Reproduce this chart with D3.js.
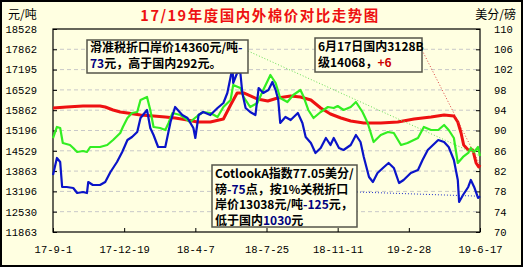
<!DOCTYPE html>
<html>
<head>
<meta charset="utf-8">
<script src="https://cdn.jsdelivr.net/npm/d3@7"></script>
<style>
  body { margin: 0; background: #fff; }
  svg { display: block; }
</style>
</head>
<body>
<svg id="chart" width="523" height="267"></svg>
<script>
(function() {
  // 国内3128B级价格 (元/吨)
  const domestic = [
    ["2017-09-01",15934],["2017-09-22",15967],["2017-10-17",16000],["2017-11-12",16000],
    ["2017-11-20",15967],["2017-12-02",15869],["2017-12-13",15803],["2017-12-24",15770],
    ["2018-01-13",15704],["2018-02-02",15672],["2018-02-20",15639],["2018-03-07",15606],
    ["2018-03-26",15540],["2018-04-10",15474],["2018-04-30",15474],["2018-05-20",15573],
    ["2018-05-31",16033],["2018-06-10",16427],["2018-06-20",16427],["2018-07-11",16230],
    ["2018-07-27",16164],["2018-08-11",16263],["2018-08-31",16328],["2018-09-15",16295],
    ["2018-10-01",16197],["2018-10-16",15934],["2018-10-31",15737],["2018-11-16",15606],
    ["2018-12-01",15507],["2018-12-21",15442],["2019-01-16",15442],["2019-02-11",15474],
    ["2019-03-08",15573],["2019-04-03",15639],["2019-04-23",15704],["2019-05-08",15672],
    ["2019-05-14",15474],["2019-05-19",15113],["2019-05-23",14720],["2019-05-30",14556],
    ["2019-06-06",14556],["2019-06-11",14129],["2019-06-15",14000],["2019-06-17",14068]
  ];

  // 滑准税折口岸价 (元/吨)
  const slidingTariff = [
    ["2017-09-01",14949],["2017-09-07",15311],["2017-09-12",15278],["2017-09-16",14785],
    ["2017-09-27",14720],["2017-10-02",14621],["2017-10-08",14490],["2017-10-17",14523],
    ["2017-10-23",14490],["2017-10-28",14654],["2017-11-12",14654],["2017-11-23",14720],
    ["2017-12-02",14884],["2017-12-13",15113],["2017-12-17",15311],["2017-12-24",15606],
    ["2017-12-31",15770],["2018-01-08",15803],["2018-01-13",16197],["2018-01-23",16295],
    ["2018-01-28",15869],["2018-02-02",15311],["2018-02-12",15278],["2018-02-20",15212],
    ["2018-02-25",15442],["2018-03-03",15770],["2018-03-15",15704],["2018-03-30",15474],
    ["2018-04-12",15704],["2018-04-19",15803],["2018-04-30",15770],["2018-05-11",15639],
    ["2018-05-20",15967],["2018-05-31",16197],["2018-06-04",16690],["2018-06-15",16591],
    ["2018-06-20",16295],["2018-06-30",15967],["2018-07-11",16098],["2018-07-20",16525],
    ["2018-07-31",17018],["2018-08-08",16755],["2018-08-15",16263],["2018-08-26",16131],
    ["2018-09-04",16361],["2018-09-15",16525],["2018-09-20",16295],["2018-09-27",15869],
    ["2018-10-05",15606],["2018-10-16",15803],["2018-10-27",15967],["2018-11-05",15934],
    ["2018-11-11",16000],["2018-11-20",15869],["2018-12-01",15967],["2018-12-09",16131],
    ["2018-12-19",15803],["2018-12-27",15442],["2019-01-05",14818],["2019-01-16",15048],
    ["2019-01-27",15146],["2019-02-05",15113],["2019-02-16",14720],["2019-02-26",14785],
    ["2019-03-14",14949],["2019-03-23",15311],["2019-04-03",15212],["2019-04-14",15212],
    ["2019-04-23",15376],["2019-04-30",15212],["2019-05-08",14949],["2019-05-14",14129],
    ["2019-05-22",14326],["2019-05-30",14457],["2019-06-03",14621],["2019-06-08",14490],
    ["2019-06-14",14654],["2019-06-17",14360]
  ];

  // 1%关税折口岸价 (元/吨)
  const onePctTariff = [
    ["2017-09-01",13735],["2017-09-07",14293],["2017-09-12",14162],["2017-09-15",13341],
    ["2017-09-22",13341],["2017-10-02",13308],["2017-10-08",13143],["2017-10-17",13176],
    ["2017-10-23",13143],["2017-10-25",13505],["2017-11-01",13406],["2017-11-12",13406],
    ["2017-11-20",13505],["2017-11-28",13833],["2017-12-08",14162],["2017-12-16",14490],
    ["2017-12-24",14884],["2017-12-31",14982],["2018-01-08",15146],["2018-01-13",15606],
    ["2018-01-23",15869],["2018-01-28",15278],["2018-02-02",15048],["2018-02-09",14654],
    ["2018-02-20",14654],["2018-02-28",15474],["2018-03-07",15967],["2018-03-18",15704],
    ["2018-03-26",15606],["2018-04-04",15278],["2018-04-07",14949],["2018-04-12",15704],
    ["2018-04-19",15803],["2018-04-30",15704],["2018-05-11",15934],["2018-05-20",16098],
    ["2018-05-26",16427],["2018-05-31",16952],["2018-06-03",17280],["2018-06-04",16755],
    ["2018-06-10",17083],["2018-06-15",17083],["2018-06-18",16427],["2018-06-23",15934],
    ["2018-06-30",15803],["2018-07-08",15704],["2018-07-13",16591],["2018-07-20",16427],
    ["2018-07-28",16525],["2018-08-03",16788],["2018-08-08",16525],["2018-08-12",16197],
    ["2018-08-15",15442],["2018-08-23",15639],["2018-08-31",15540],["2018-09-11",15770],
    ["2018-09-18",15442],["2018-09-23",14982],["2018-10-01",14785],["2018-10-08",14457],
    ["2018-10-16",14621],["2018-10-24",14949],["2018-10-31",14720],["2018-11-05",14949],
    ["2018-11-13",14621],["2018-11-20",14556],["2018-12-01",14720],["2018-12-09",15048],
    ["2018-12-16",14818],["2018-12-21",14326],["2018-12-29",13669],["2019-01-04",13505],
    ["2019-01-11",13800],["2019-01-21",13998],["2019-01-28",14129],["2019-02-05",13965],
    ["2019-02-13",13472],["2019-02-20",13571],["2019-03-03",13800],["2019-03-14",13899],
    ["2019-03-21",14227],["2019-03-29",14556],["2019-04-06",14720],["2019-04-14",14884],
    ["2019-04-23",14818],["2019-04-30",14654],["2019-05-08",14227],["2019-05-14",13571],
    ["2019-05-16",12848],["2019-05-22",13078],["2019-05-30",13341],["2019-06-03",13571],
    ["2019-06-08",13341],["2019-06-14",12980],["2019-06-17",13038]
  ];

  const leftTicks = [11863, 12530, 13196, 13863, 14529, 15196, 15862, 16529, 17195, 17862, 18528];
  const rightTicks = [70, 74, 78, 82, 86, 90, 94, 98, 102, 106, 110];
  const xTicks = ["2017-09-01", "2017-12-19", "2018-04-07", "2018-07-25", "2018-11-11", "2019-02-28", "2019-06-17"];

  const title = "17/19年度国内外棉价对比走势图";
  const note1 = [
    [["滑准税折口岸价14360元/吨", "#000"], ["-", "#000080"]],
    [["73", "#000080"], ["元，高于国内292元。", "#000"]]
  ];
  const note2 = [
    [["6月17日国内3128B", "#000"]],
    [["级14068，", "#000"], ["+6", "#cc0000"]]
  ];
  const note3 = [
    [["CotlookA指数77.05美分/", "#000"]],
    [["磅", "#000"], ["-75", "#000080"], ["点，按1%关税折口", "#000"]],
    [["岸价13038元/吨", "#000"], ["-125", "#000080"], ["元，", "#000"]],
    [["低于国内", "#000"], ["1030", "#000080"], ["元", "#000"]]
  ];

  const parse = d3.timeParse("%Y-%m-%d");
  const fmt = d3.timeFormat("%y-%-m-%-d");

  const svg = d3.select("#chart");
  const W = 523, H = 267;
  const margin = { top: 29, right: 43, bottom: 35, left: 53 };
  const width = W - margin.left - margin.right;
  const height = H - margin.top - margin.bottom;

  svg.append("rect").attr("x", 1).attr("y", 1).attr("width", W - 2).attr("height", H - 2)
    .attr("fill", "#ffffe1").attr("stroke", "#000").attr("stroke-width", 2);

  const g = svg.append("g").attr("transform", `translate(${margin.left},${margin.top})`);

  const x = d3.scaleTime()
    .domain([parse(xTicks[0]), parse(xTicks[xTicks.length - 1])])
    .range([0, width]);
  const y = d3.scaleLinear().domain([11863, 18528]).range([height, 0]);
  const y2 = d3.scaleLinear().domain([70, 110]).range([height, 0]);

  // grid
  g.append("g").selectAll("line").data(leftTicks.slice(1, -1)).enter().append("line")
    .attr("x1", 0).attr("x2", width)
    .attr("y1", d => y(d)).attr("y2", d => y(d))
    .attr("stroke", "#c8c8c8").attr("stroke-dasharray", "4,3");

  const font = "'Liberation Mono', 'Noto Sans CJK SC', monospace";

  // left axis
  const ya = g.append("g").call(d3.axisLeft(y).tickValues(leftTicks).tickSize(-4).tickPadding(16).tickFormat(d3.format("d")));
  ya.select(".domain").remove();
  ya.selectAll("line").attr("stroke", "#000");
  ya.selectAll("text").attr("font-family", font).attr("font-size", 10.5).attr("fill", "#000");

  // right axis
  const yb = g.append("g").attr("transform", `translate(${width},0)`)
    .call(d3.axisRight(y2).tickValues(rightTicks).tickSize(-4).tickPadding(14));
  yb.select(".domain").remove();
  yb.selectAll("line").attr("stroke", "#000");
  yb.selectAll("text").attr("font-family", font).attr("font-size", 10.5).attr("fill", "#000");

  // bottom axis
  const xa = g.append("g").attr("transform", `translate(0,${height})`)
    .call(d3.axisBottom(x).tickValues(xTicks.map(parse)).tickSize(-4).tickPadding(14).tickFormat(fmt));
  xa.select(".domain").remove();
  xa.selectAll("line").attr("stroke", "#000");
  xa.selectAll("text").attr("font-family", font).attr("font-size", 10.5).attr("fill", "#000");

  g.append("rect").attr("width", width).attr("height", height)
    .attr("fill", "none").attr("stroke", "#000").attr("stroke-width", 1.2);

  const line = d3.line().x(d => x(parse(d[0]))).y(d => y(d[1]));

  const series = [
    { data: domestic, color: "#ee1111", w: 3 },
    { data: slidingTariff, color: "#33ee22", w: 2.2 },
    { data: onePctTariff, color: "#0a14c8", w: 2.2 }
  ];

  // leader lines
  const leaders = [
    { from: [248, 51], s: slidingTariff, color: "#66dd55" },
    { from: [422, 50], s: domestic, color: "#dd4444" },
    { from: [357, 192], s: onePctTariff, color: "#2233cc" }
  ];
  leaders.forEach(l => {
    const last = l.s[l.s.length - 1];
    svg.append("line")
      .attr("x1", l.from[0]).attr("y1", l.from[1])
      .attr("x2", margin.left + x(parse(last[0]))).attr("y2", margin.top + y(last[1]))
      .attr("stroke", l.color).attr("stroke-width", 1).attr("stroke-dasharray", "1,2");
  });

  series.forEach(s => {
    g.append("path").datum(s.data)
      .attr("d", line)
      .attr("fill", "none")
      .attr("stroke", s.color)
      .attr("stroke-width", s.w)
      .attr("stroke-linejoin", "round");
  });

  // titles
  svg.append("text").attr("x", 260).attr("y", 21).attr("text-anchor", "middle")
    .attr("font-family", "'Noto Sans CJK SC', sans-serif").attr("font-weight", "bold")
    .attr("font-size", 14.5).attr("letter-spacing", 1.5).attr("fill", "#ee1111").text(title);
  svg.append("text").attr("x", 8).attr("y", 19)
    .attr("font-family", "'Noto Sans CJK SC', sans-serif").attr("font-size", 12).text("元/吨");
  svg.append("text").attr("x", 516).attr("y", 19).attr("text-anchor", "end")
    .attr("font-family", "'Noto Sans CJK SC', sans-serif").attr("font-size", 12).text("美分/磅");

  // note boxes
  function noteBox(x0, y0, w, h, tx, firstBase, lh, lines) {
    svg.append("rect").attr("x", x0).attr("y", y0).attr("width", w).attr("height", h)
      .attr("fill", "#ffffe6").attr("stroke", "#55554a").attr("stroke-width", 1.5);
    lines.forEach((ln, i) => {
      const t = svg.append("text").attr("x", tx).attr("y", firstBase + i * lh)
        .attr("font-family", "'Noto Sans CJK SC', sans-serif").attr("font-weight", "bold")
        .attr("font-size", 12);
      ln.forEach(seg => t.append("tspan").attr("fill", seg[1]).text(seg[0]));
    });
  }
  noteBox(87, 40, 161, 33, 90, 52, 16, note1);
  noteBox(315, 38, 107, 34, 318, 51, 16, note2);
  noteBox(212, 165, 145, 62, 215, 178, 15.5, note3);
})();
</script>
</body>
</html>
